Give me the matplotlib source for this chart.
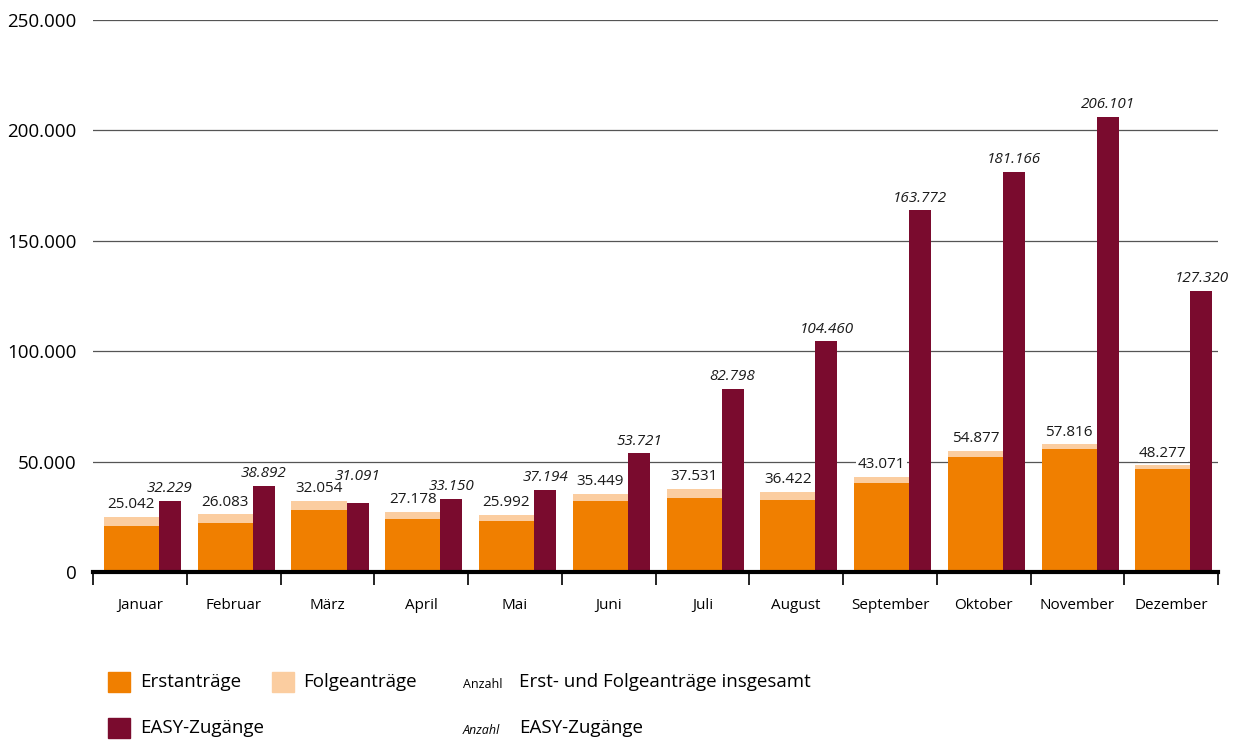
import matplotlib.pyplot as plt
from matplotlib.patches import Rectangle
import numpy as np

plt.rcParams['font.family'] = ['Open Sans', 'DejaVu Sans']

# data
months = ["Januar", "Februar", "März", "April", "Mai", "Juni", "Juli",
          "August", "September", "Oktober", "November", "Dezember"]
insgesamt = [25042, 26083, 32054, 27178, 25992, 35449, 37531,
             36422, 43071, 54877, 57816, 48277]
erstantraege = [21000, 22300, 28200, 24100, 23200, 32300, 33600,
                32700, 40100, 52300, 55500, 46500]
folgeantraege = [t - e for t, e in zip(insgesamt, erstantraege)]
easy = [32229, 38892, 31091, 33150, 37194, 53721, 82798,
        104460, 163772, 181166, 206101, 127320]

c_erst = "#F07F00"
c_folge = "#FBCDA0"
c_easy = "#7A0B2E"

def de_fmt(v):
    return f"{v:,}".replace(",", ".")

fig = plt.figure(figsize=(12.33, 7.43), dpi=100)
ax = fig.add_axes([0.0754, 0.2301, 0.9126, 0.7429])

x = np.arange(len(months))
w_o = 0.587
w_d = 0.235
xo = x - 0.5 + 0.117 + w_o / 2
xd = x - 0.5 + 0.117 + w_o + w_d / 2

ax.bar(xo, erstantraege, w_o, color=c_erst, zorder=2)
ax.bar(xo, folgeantraege, w_o, bottom=erstantraege, color=c_folge, zorder=2)
ax.bar(xd, easy, w_d, color=c_easy, zorder=2)

for i in range(len(months)):
    ax.text(xo[i], insgesamt[i] + 2200, de_fmt(insgesamt[i]), ha="center",
            va="bottom", fontsize=11, color="#1a1a1a", zorder=3,
            bbox=dict(boxstyle="square,pad=0.1", fc="white", ec="none"))
    # raise the EASY label where it would collide with the total label
    lift = 6500 if easy[i] < insgesamt[i] + 3000 else 0
    ax.text(xd[i], easy[i] + 2200 + lift, de_fmt(easy[i]), ha="center",
            va="bottom", fontsize=11, style="italic", color="#1a1a1a", zorder=3)

ax.set_xlim(-0.5, len(months) - 0.5)
ax.set_ylim(0, 250000)
ax.set_yticks(range(0, 250001, 50000))
ax.set_yticklabels([de_fmt(v) for v in range(0, 250001, 50000)], fontsize=13.5)
ax.yaxis.grid(True, color="#555555", linewidth=0.9, zorder=0)
ax.tick_params(axis="y", length=0, pad=12)

ax.set_xticks(x)
ax.set_xticklabels(months, fontsize=11)
ax.set_xticks(np.arange(-0.5, len(months)), minor=True)
ax.tick_params(axis="x", which="major", length=0, pad=19)
ax.tick_params(axis="x", which="minor", length=9, width=1.2, color="black")

for s in ["top", "right", "left"]:
    ax.spines[s].set_visible(False)
ax.spines["bottom"].set_linewidth(3)
ax.spines["bottom"].set_zorder(4)
ax.set_axisbelow(True)

# legend
W, H = 1233, 743
def square(px, py, color):
    fig.patches.append(Rectangle((px / W, 1 - (py + 20) / H), 22 / W, 20 / H,
                                 color=color, transform=fig.transFigure))

square(108, 672, c_erst)
square(272, 672, c_folge)
square(108, 718, c_easy)
fig.text(140 / W, 1 - 682 / H, "Erstanträge", fontsize=13.5, va="center")
fig.text(303 / W, 1 - 682 / H, "Folgeanträge", fontsize=13.5, va="center")
fig.text(140 / W, 1 - 728 / H, "EASY-Zugänge", fontsize=13.5, va="center")
fig.text(463 / W, 1 - 684 / H, "Anzahl", fontsize=9, va="center")
fig.text(519 / W, 1 - 682 / H, "Erst- und Folgeanträge insgesamt", fontsize=13.5, va="center")
fig.text(463 / W, 1 - 730 / H, "Anzahl", fontsize=9, style="italic", va="center")
fig.text(519 / W, 1 - 728 / H, "EASY-Zugänge", fontsize=13.5, va="center")

fig.savefig("out.png", dpi=100)
